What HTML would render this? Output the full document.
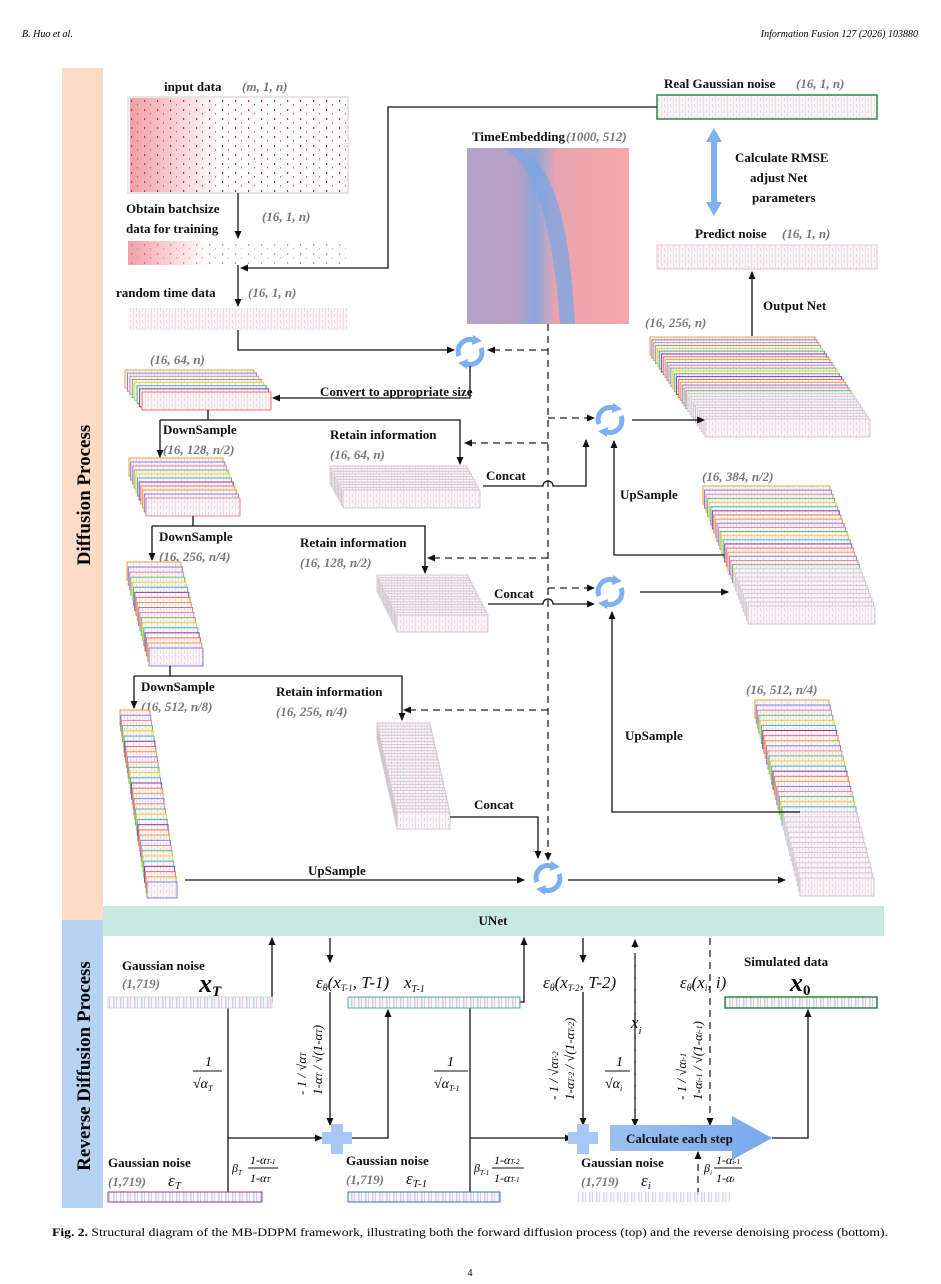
<!DOCTYPE html>
<html><head><meta charset="utf-8"><style>
html,body{margin:0;padding:0;background:#fff}
svg{display:block}
text{font-family:"Liberation Serif",serif}
.b{font-weight:bold;font-size:13px;fill:#111}
.d{font-style:italic;font-weight:bold;font-size:13px;fill:#777}
.m{font-style:italic;font-size:17px;fill:#111}
</style></head><body>
<svg id="s" width="941" height="1284" viewBox="0 0 941 1284" xmlns="http://www.w3.org/2000/svg">
<defs>
<marker id="a" markerWidth="8" markerHeight="8" refX="7" refY="4" orient="auto" markerUnits="userSpaceOnUse"><path d="M0,0.5 L8,4 L0,7.5z" fill="#111"/></marker>
<pattern id="pk" width="6" height="6" patternUnits="userSpaceOnUse"><rect width="6" height="6" fill="#fcf5f8"/><rect x="1" width="0.7" height="6" fill="#ead3de"/><rect x="4" y="2" width="0.7" height="3" fill="#d4cce4"/></pattern>
<pattern id="rd" width="13" height="9" patternUnits="userSpaceOnUse"><rect width="13" height="9" fill="#fff"/><rect x="1" y="1" width="1.2" height="2" fill="#d82030"/><rect x="7" y="5" width="1" height="1.5" fill="#e85060"/></pattern>
<pattern id="gs" width="7" height="10" patternUnits="userSpaceOnUse"><rect width="7" height="10" fill="#f6f6fb"/><rect x="1" width="1.5" height="10" fill="#c4d4ec"/><rect x="4" width="1" height="10" fill="#f2c4c8"/></pattern>
<linearGradient id="te" x1="0" x2="1" y1="0" y2="0"><stop offset="0" stop-color="#b4a4c8"/><stop offset="0.3" stop-color="#b8a0c4"/><stop offset="0.42" stop-color="#8aa6dc"/><stop offset="0.55" stop-color="#e8a4b0"/><stop offset="1" stop-color="#f6a8ac"/></linearGradient>
<linearGradient id="rg" x1="0" x2="1"><stop offset="0" stop-color="#e04050" stop-opacity="0.5"/><stop offset="1" stop-color="#e04050" stop-opacity="0"/></linearGradient>
<linearGradient id="ar" x1="0" x2="1"><stop offset="0" stop-color="#9cc0f0"/><stop offset="1" stop-color="#7aa8ec"/></linearGradient>
</defs>
<text x="22" y="37" font-size="10" font-style="italic">B. Huo et al.</text>
<text x="918" y="37" font-size="10" font-style="italic" text-anchor="end">Information Fusion 127 (2026) 103880</text>
<rect x="62" y="68" width="41" height="852" fill="#fcdcc6"/>
<rect x="62" y="920" width="41" height="288" fill="#b8d2f4"/>
<text transform="translate(90,495) rotate(-90)" text-anchor="middle" font-size="19" font-weight="bold">Diffusion Process</text>
<text transform="translate(90,1066) rotate(-90)" text-anchor="middle" font-size="19" font-weight="bold">Reverse Diffusion Process</text>
<rect x="103" y="906" width="781" height="30" fill="#c8e8e0"/>
<text x="493" y="925" class="b" text-anchor="middle">UNet</text>
<text x="164" y="91" class="b">input data</text><text x="242" y="91" class="d">(m, 1, n)</text>
<rect x="128" y="97" width="220" height="96" fill="url(#rd)" stroke="#ccc"/>
<rect x="130" y="98" width="90" height="94" fill="url(#rg)"/>
<text x="126" y="213" class="b">Obtain batchsize</text><text x="126" y="233" class="b">data for training</text>
<text x="262" y="221" class="d">(16, 1, n)</text>
<rect x="128" y="241" width="220" height="24" fill="url(#rd)" opacity="0.5"/>
<rect x="128" y="241" width="80" height="24" fill="url(#rg)"/>
<text x="116" y="297" class="b">random time data</text><text x="248" y="297" class="d">(16, 1, n)</text>
<rect x="128" y="308" width="220" height="22" fill="url(#pk)"/>
<text x="472" y="141" class="b">TimeEmbedding</text><text x="566" y="141" class="d">(1000, 512)</text>
<rect x="467" y="148" width="162" height="176" fill="url(#te)"/>
<path d="M500,148 C540,160 555,250 560,324 L575,324 C570,240 560,170 520,148z" fill="#7ea6e0" opacity="0.8"/>
<text x="664" y="88" class="b">Real Gaussian noise</text><text x="796" y="88" class="d">(16, 1, n)</text>
<rect x="657" y="95" width="220" height="24" fill="url(#pk)" stroke="#2a8a40" stroke-width="1.5"/>
<path d="M714,128 L722,142 L717,142 L717,202 L722,202 L714,216 L706,202 L711,202 L711,142 L706,142z" fill="#7eb0f0"/>
<text x="735" y="162" class="b" font-size="14">Calculate RMSE</text>
<text x="750" y="182" class="b" font-size="14">adjust Net</text>
<text x="752" y="202" class="b" font-size="14">parameters</text>
<text x="695" y="238" class="b">Predict noise</text><text x="782" y="238" class="d">(16, 1, n)</text>
<rect x="657" y="245" width="220" height="24" fill="url(#pk)" stroke="#f0c0c8"/>
<text x="763" y="310" class="b">Output Net</text>
<text x="645" y="327" class="d">(16, 256, n)</text>
<text x="150" y="364" class="d">(16, 64, n)</text>
<text x="320" y="396" class="b">Convert to appropriate size</text>
<text x="163" y="434" class="b">DownSample</text><text x="163" y="454" class="d">(16, 128, n/2)</text>
<text x="330" y="439" class="b">Retain information</text><text x="330" y="459" class="d">(16, 64, n)</text>
<text x="486" y="480" class="b">Concat</text>
<text x="620" y="499" class="b">UpSample</text>
<text x="702" y="481" class="d">(16, 384, n/2)</text>
<text x="159" y="541" class="b">DownSample</text><text x="159" y="561" class="d">(16, 256, n/4)</text>
<text x="300" y="547" class="b">Retain information</text><text x="300" y="567" class="d">(16, 128, n/2)</text>
<text x="494" y="598" class="b">Concat</text>
<text x="141" y="691" class="b">DownSample</text><text x="141" y="711" class="d">(16, 512, n/8)</text>
<text x="276" y="696" class="b">Retain information</text><text x="276" y="716" class="d">(16, 256, n/4)</text>
<text x="746" y="694" class="d">(16, 512, n/4)</text>
<text x="625" y="740" class="b">UpSample</text>
<text x="474" y="809" class="b">Concat</text>
<text x="308" y="875" class="b">UpSample</text>
<g id="stacks"></g>
<g id="cyc"></g>
<g stroke="#111" stroke-width="1.3" fill="none">
<path d="M657,107 H388 V268 H241" marker-end="url(#a)"/>
<path d="M238,193 V238" marker-end="url(#a)"/>
<path d="M238,265 V306" marker-end="url(#a)"/>
<path d="M238,330 V350 H454" marker-end="url(#a)"/>
<path d="M470,366 V398 H273" marker-end="url(#a)"/>
<path d="M208,410 V420"/><path d="M160,420 H460 V464" marker-end="url(#a)"/><path d="M160,420 V457" marker-end="url(#a)"/>
<path d="M193,516 V526"/><path d="M152,526 H425 V573" marker-end="url(#a)"/><path d="M152,526 V560" marker-end="url(#a)"/>
<path d="M170,666 V676"/><path d="M134,676 H402 V720" marker-end="url(#a)"/><path d="M134,676 V708" marker-end="url(#a)"/>
<path d="M185,880 H524" marker-end="url(#a)"/>
<path d="M568,880 H785" marker-end="url(#a)"/>
<path d="M483,486 H543 A5,5 0 0 1 553,486 H586 V440" marker-end="url(#a)"/>
<path d="M488,604 H543 A5,5 0 0 1 553,604 H594" marker-end="url(#a)"/>
<path d="M450,817 H538 V858" marker-end="url(#a)"/>
<path d="M632,420 H704" marker-end="url(#a)"/>
<path d="M640,592 H728" marker-end="url(#a)"/>
<path d="M752,336 V272" marker-end="url(#a)"/>
<path d="M724,555 H614 V441" marker-end="url(#a)"/>
<path d="M800,812 H612 V612" marker-end="url(#a)"/>
<path d="M262,1002 H272 V938" marker-end="url(#a)"/>
<path d="M330,938 V962" marker-end="url(#a)"/>
<path d="M228,1007 V1192"/><path d="M228,1138 H322" marker-end="url(#a)"/>
<path d="M330,992 V1125" marker-end="url(#a)"/>
<path d="M346,1138 H388 V1010" marker-end="url(#a)"/>
<path d="M520,1002 H524 V938" marker-end="url(#a)"/>
<path d="M583,938 V962" marker-end="url(#a)"/>
<path d="M470,1007 V1192"/><path d="M470,1138 H572" marker-end="url(#a)"/>
<path d="M583,992 V1125" marker-end="url(#a)"/>
<path d="M772,1138 H808 V1010" marker-end="url(#a)"/>
</g>
<g stroke="#222" stroke-width="1.3" fill="none" stroke-dasharray="7,5">
<path d="M548,324 V860" marker-end="url(#a)"/>
<path d="M548,350 H488" marker-end="url(#a)"/>
<path d="M548,418 H594" marker-end="url(#a)"/>
<path d="M548,443 H465" marker-end="url(#a)"/>
<path d="M548,558 H428" marker-end="url(#a)"/>
<path d="M548,588 H594" marker-end="url(#a)"/>
<path d="M548,710 H404" marker-end="url(#a)"/>
<path d="M635,1128 V940" marker-end="url(#a)"/><path d="M635,960 V1126" marker-end="url(#a)"/>
<path d="M710,938 V1125" marker-end="url(#a)"/>
<path d="M698,1195 V1152" marker-end="url(#a)"/>
</g>
<g fill="#a8c8f4"><rect x="322" y="1132" width="30" height="12"/><rect x="331" y="1124" width="12" height="30"/>
<rect x="568" y="1132" width="30" height="12"/><rect x="577" y="1124" width="12" height="30"/></g>
<path d="M610,1125 H732 V1116 L772,1138 L732,1160 V1151 H610z" fill="url(#ar)"/>
<text x="626" y="1143" class="b" font-size="14">Calculate each step</text>
<rect x="108" y="997" width="164" height="11" fill="url(#gs)" stroke="#ccd8ec"/>
<rect x="348" y="997" width="172" height="11" fill="url(#gs)" stroke="#50a8a0"/>
<rect x="725" y="997" width="152" height="11" fill="url(#gs)" stroke="#2a8a40" stroke-width="1.5"/>
<rect x="108" y="1192" width="154" height="10" fill="url(#gs)" stroke="#8040a0"/>
<rect x="348" y="1192" width="152" height="10" fill="url(#gs)" stroke="#3070c0"/>
<rect x="577" y="1192" width="153" height="10" fill="url(#gs)" opacity="0.8"/>
<text x="122" y="970" class="b">Gaussian noise</text><text x="122" y="988" class="d" font-weight="normal">(1,719)</text>
<text x="199" y="992" font-size="26" font-style="italic" font-weight="bold">x<tspan font-size="15" dy="4">T</tspan></text>
<text x="316" y="988" class="m">ε<tspan font-size="10" dy="3">θ</tspan><tspan dy="-3">(x</tspan><tspan font-size="9" dy="3">T-1</tspan><tspan dy="-3">, T-1)</tspan></text>
<text x="404" y="988" class="m" font-size="19">x<tspan font-size="10" dy="4">T-1</tspan></text>
<text x="543" y="988" class="m">ε<tspan font-size="10" dy="3">θ</tspan><tspan dy="-3">(x</tspan><tspan font-size="9" dy="3">T-2</tspan><tspan dy="-3">, T-2)</tspan></text>
<text x="680" y="988" class="m">ε<tspan font-size="10" dy="3">θ</tspan><tspan dy="-3">(x</tspan><tspan font-size="9" dy="3">i</tspan><tspan dy="-3">, i)</tspan></text>
<text x="631" y="1028" class="m" font-size="22">x<tspan font-size="11" dy="6">i</tspan></text>
<text x="744" y="966" class="b" font-size="14">Simulated data</text>
<text x="790" y="991" font-size="26" font-style="italic" font-weight="bold">x<tspan font-size="15" dy="4" font-style="normal">0</tspan></text>
<g font-size="14" font-style="italic">
<text x="205" y="1066">1</text><line x1="193" y1="1071" x2="222" y2="1071" stroke="#111"/><text x="193" y="1088">√α<tspan font-size="8" dy="3">T</tspan></text>
<text x="447" y="1066">1</text><line x1="434" y1="1071" x2="468" y2="1071" stroke="#111"/><text x="434" y="1088">√α<tspan font-size="8" dy="3">T-1</tspan></text>
<text x="616" y="1066">1</text><line x1="605" y1="1071" x2="630" y2="1071" stroke="#111"/><text x="605" y="1088">√α<tspan font-size="8" dy="3">i</tspan></text>
</g>
<g font-size="13" font-style="italic">
<text transform="translate(306,1095) rotate(-90)">- <tspan>1</tspan> / √α<tspan font-size="8">T</tspan></text>
<text transform="translate(322,1095) rotate(-90)">1-α<tspan font-size="8">T</tspan> / √(1-α<tspan font-size="8">T</tspan>)</text>
<text transform="translate(558,1100) rotate(-90)">- 1 / √α<tspan font-size="8">T-2</tspan></text>
<text transform="translate(574,1100) rotate(-90)">1-α<tspan font-size="8">T-2</tspan> / √(1-α<tspan font-size="8">T-2</tspan>)</text>
<text transform="translate(686,1100) rotate(-90)">- 1 / √α<tspan font-size="8">i-1</tspan></text>
<text transform="translate(702,1100) rotate(-90)">1-α<tspan font-size="8">i-1</tspan> / √(1-α<tspan font-size="8">i-1</tspan>)</text>
</g>
<g font-size="12" font-style="italic">
<text x="232" y="1172">β<tspan font-size="7" dy="3">T</tspan></text><text x="250" y="1164">1-α<tspan font-size="7">T-1</tspan></text><line x1="248" y1="1168" x2="278" y2="1168" stroke="#111"/><text x="250" y="1182">1-α<tspan font-size="7">T</tspan></text>
<text x="474" y="1172">β<tspan font-size="7" dy="3">T-1</tspan></text><text x="494" y="1164">1-α<tspan font-size="7">T-2</tspan></text><line x1="492" y1="1168" x2="524" y2="1168" stroke="#111"/><text x="494" y="1182">1-α<tspan font-size="7">T-1</tspan></text>
<text x="704" y="1172">β<tspan font-size="7" dy="3">i</tspan></text><text x="716" y="1164">1-α<tspan font-size="7">i-1</tspan></text><line x1="714" y1="1168" x2="742" y2="1168" stroke="#111"/><text x="716" y="1182">1-α<tspan font-size="7">i</tspan></text>
</g>
<text x="108" y="1167" class="b">Gaussian noise</text><text x="108" y="1186" class="d" font-weight="normal">(1,719)</text>
<text x="168" y="1186" class="m" font-size="20">ε<tspan font-size="11" dy="3">T</tspan></text>
<text x="346" y="1165" class="b">Gaussian noise</text><text x="346" y="1184" class="d" font-weight="normal">(1,719)</text>
<text x="406" y="1184" class="m" font-size="20">ε<tspan font-size="11" dy="3">T-1</tspan></text>
<text x="581" y="1167" class="b">Gaussian noise</text><text x="581" y="1186" class="d" font-weight="normal">(1,719)</text>
<text x="641" y="1186" class="m" font-size="20">ε<tspan font-size="11" dy="3">i</tspan></text>
<text x="52" y="1236" font-size="11.5" textLength="836" lengthAdjust="spacingAndGlyphs"><tspan font-weight="bold">Fig. 2.</tspan>  Structural diagram of the MB-DDPM framework, illustrating both the forward diffusion process (top) and the reverse denoising process (bottom).</text>
<text x="470" y="1276" font-size="10" text-anchor="middle">4</text>
</svg>
<script>
var NS="http://www.w3.org/2000/svg",g=document.getElementById("stacks");
var cols=["#f0a030","#8080e0","#f080a0","#60c060","#f0d020","#40b8c0","#8040a0","#f07060"];
function R(x,y,w,h,st,fill){var r=document.createElementNS(NS,"rect");r.setAttribute("x",x);r.setAttribute("y",y);r.setAttribute("width",w);r.setAttribute("height",h);r.setAttribute("fill",fill||"url(#pk)");r.setAttribute("stroke",st);r.setAttribute("stroke-width","1");g.appendChild(r);}
function S(x0,y0,x1,y1,w,h,n,gray,colored){for(var i=0;i<n;i++){var t=n==1?0:i/(n-1);var st=gray?"#d0c8d0":(colored===undefined||i<colored?cols[i%cols.length]:"#d0c8d0");R(x0+(x1-x0)*t,y0+(y1-y0)*t,w,h,st);}}
S(125,370,142,392,129,18,8,false);
S(129,458,146,498,94,18,11,false);
S(127,562,149,648,54,18,18,false);
S(120,710,147,882,30,16,34,false);
S(330,466,343,490,137,18,10,true);
S(377,575,397,615,91,17,16,true);
S(377,723,397,812,53,17,30,true);
S(650,337,705,419,165,18,30,false,20);
S(703,486,748,606,127,18,30,false,20);
S(755,700,800,878,74,18,36,false,22);
var c=document.getElementById("cyc");
[[470,352],[610,420],[610,592],[548,878]].forEach(function(p){var x=p[0],y=p[1];
c.insertAdjacentHTML("beforeend",'<g fill="none" stroke="#7eb0f0" stroke-width="5"><path d="M'+(x-11)+','+(y+4)+' A12,12 0 0 1 '+(x+6)+','+(y-11)+'"/><path d="M'+(x+11)+','+(y-4)+' A12,12 0 0 1 '+(x-6)+','+(y+11)+'"/></g><path d="M'+(x+3)+','+(y-17)+' l9,6 l-10,4z M'+(x-3)+','+(y+17)+' l-9,-6 l10,-4z" fill="#7eb0f0"/>');});
</script>
</body></html>
